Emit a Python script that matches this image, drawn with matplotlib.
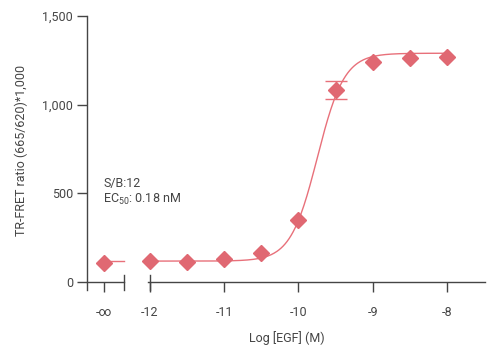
import numpy as np
import matplotlib
matplotlib.use("Agg")
import matplotlib.pyplot as plt

plt.rcParams['font.family'] = ['Roboto', 'DejaVu Sans']
plt.rcParams['mathtext.fontset'] = 'custom'
plt.rcParams['mathtext.rm'] = 'Roboto'
plt.rcParams['mathtext.default'] = 'regular'

# measured points, log [EGF] (M)
log_conc = [-12, -11.5, -11, -10.5, -10, -9.5, -9, -8.5, -8]
ratio = [118, 113, 131, 165, 350, 1081, 1239, 1265, 1269]
ratio_err = [0, 0, 0, 0, 0, 50, 0, 0, 0]
zero_ratio = 110  # -inf (no EGF)

# 4PL fit
bottom = 118
top = 1290
log_ec50 = -9.745
hill = 2.4

x_ticks = [-12, -11, -10, -9, -8]
x_ticklabels = ['-12', '-11', '-10', '-9', '-8']
y_ticks = [0, 500, 1000, 1500]
y_ticklabels = ['0', '500', '1,000', '1,500']

red = '#e06872'
line_red = '#e8707a'
grey = '#454545'
W, H = 500, 358

def fx(px):
    return px / W

def fy(py):
    return 1 - py / H

def fit(x):
    return bottom + (top - bottom) / (1 + 10 ** ((log_ec50 - x) * hill))

fig = plt.figure(figsize=(5, 3.58), dpi=100)
ax_l = fig.add_axes([fx(87), fy(290), fx(124 - 87), fy(16) - fy(290)])
ax = fig.add_axes([fx(148), fy(290), fx(485 - 148), fy(16) - fy(290)])

ylim = (-45, 1500)
for a in (ax_l, ax):
    a.set_ylim(*ylim)
    a.spines['top'].set_visible(False)
    a.spines['right'].set_visible(False)
    a.spines['bottom'].set_position(('data', 0))
    for s in a.spines.values():
        s.set_color(grey)
        s.set_linewidth(1)
    a.tick_params(colors=grey, labelcolor=grey, labelsize=9, length=7,
                  width=1, direction='out')
    a.tick_params(axis='x', pad=10)
    a.tick_params(axis='y', pad=3)

# left (-inf) segment
ax_l.set_xlim(0, 1)
ax_l.plot([0.46, 1.0], [bottom, bottom], color=line_red, lw=1, clip_on=False)
ax_l.plot([0.46], [zero_ratio], 'D', color=red, ms=8, clip_on=False, zorder=5)
ax_l.set_xticks([0.46])
ax_l.set_xticklabels(['-\u221e'])
ax_l.set_yticks(y_ticks)
ax_l.set_yticklabels(y_ticklabels)
ax_l.plot([1, 1], [-45, 40], color=grey, lw=1, clip_on=False)

# main segment
ax.set_xlim(-12.027, -7.488)
xs = np.linspace(-12, -8, 300)
ax.plot(xs, fit(xs), color=line_red, lw=1)
err_x = [x for x, e in zip(log_conc, ratio_err) if e > 0]
err_y = [y for y, e in zip(ratio, ratio_err) if e > 0]
err_e = [e for e in ratio_err if e > 0]
ax.errorbar(err_x, err_y, yerr=err_e, fmt='none', ecolor=line_red,
            elinewidth=1, capsize=8, capthick=1, zorder=4)
ax.plot(log_conc, ratio, 'D', color=red, ms=8, zorder=5, clip_on=False)
ax.spines['left'].set_visible(False)
ax.tick_params(axis='y', left=False, labelleft=False)
ax.set_xticks(x_ticks)
ax.set_xticklabels(x_ticklabels)
ax.plot([-12, -12], [-45, 40], color=grey, lw=1, clip_on=False)

fig.text(fx(21), fy(150), 'TR-FRET ratio (665/620)*1,000', rotation=90,
         ha='center', va='center', fontsize=9, color=grey)
fig.text(fx(287), fy(338), 'Log [EGF] (M)', ha='center', va='center',
         fontsize=9, color=grey)
fig.text(fx(103), fy(183), 'S/B:12', ha='left', va='center', fontsize=9,
         color=grey)
fig.text(fx(103), fy(199), 'EC$_{50}$: 0.18 nM', ha='left', va='center',
         fontsize=9, color=grey)

fig.savefig('out.png', dpi=100)
